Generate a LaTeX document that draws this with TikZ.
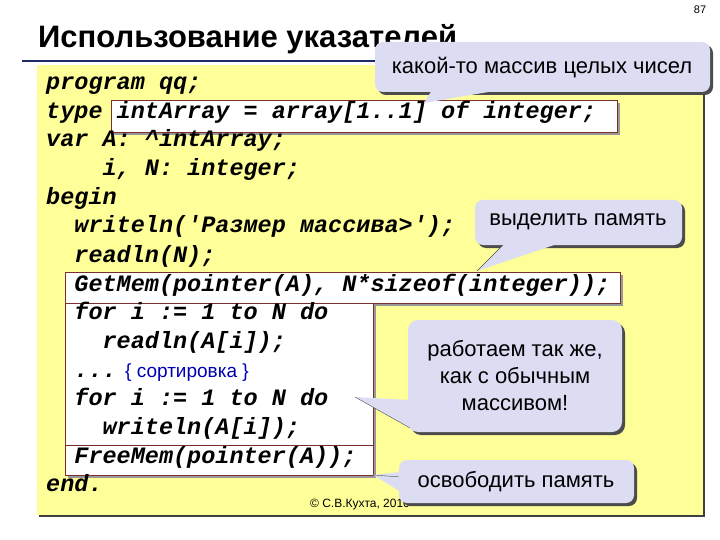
\documentclass[tikz,border=0pt]{standalone}
\usepackage{fontspec}
\setmainfont{Liberation Sans}
\newfontfamily\codef{Liberation Mono}
\begin{document}
\begin{tikzpicture}[x=1pt,y=-1pt]
\definecolor{yel}{HTML}{FFFF99}
\definecolor{callc}{HTML}{DCDDF3}
\definecolor{boxb}{HTML}{7A2E2E}
\definecolor{navy}{HTML}{1F2A6B}
\tikzset{
 code/.style={anchor=base west,inner sep=0pt,font=\codef\bfseries\itshape\fontsize{23.5}{24}\selectfont},
 callt/.style={align=center,inner sep=0pt,font=\fontsize{22}{27}\selectfont},
 wbox/.style={fill=white,draw=boxb,line width=0.8pt},
 shad/.style={fill=black!70},
 cfill/.style={fill=callc}
}
\useasboundingbox (0,0) rectangle (720,540);
\fill[white] (0,0) rectangle (720,540);
\node[font=\fontsize{11}{12}\selectfont] (pg) at (700,10) {87};
\node[anchor=base west,inner sep=0pt,font=\bfseries\fontsize{31}{34}\selectfont] (title) at (38,48) {Использование указателей};
\draw[navy,line width=2.5pt] (22,61) -- (700,61);
% yellow box
\fill[black!75] (39,67) rectangle (705,517);
\fill[yel] (37,65) rectangle (703,515);
% white boxes
\fill[black!40] (114,103) rectangle (620,135);
\draw[wbox] (111,100) rectangle (617,132);
\fill[black!40] (68,275) rectangle (623,306);
\draw[wbox] (65,272) rectangle (620,303);
\fill[black!40] (68,306) rectangle (376,478);
\draw[wbox] (65,303) rectangle (373,445);
\draw[wbox] (65,445) rectangle (373,475);
% code
\node[code] (l1) at (46,90) {program qq;};
\node[code] (l2) at (46,119) {type intArray = array[1..1] of integer;};
\node[code] (l3) at (46,147) {var A: \string^intArray;};
\node[code] (l4) at (46,176) {\ \ \ \ i, N: integer;};
\node[code] (l5) at (46,205) {begin};
\node[code] (l6) at (46,233) {\ \ writeln('Размер массива>');};
\node[code] (l7) at (46,262) {\ \ readln(N);};
\node[code] (l8) at (46,291) {\ \ GetMem(pointer(A), N*sizeof(integer));};
\node[code] (l9) at (46,319) {\ \ for i := 1 to N do};
\node[code] (l10) at (46,348) {\ \ \ \ readln(A[i]);};
\node[code] (l11) at (46,377) {\ \ ...};
\node[anchor=base west,inner sep=0pt,text=blue!70!black,font=\fontsize{19}{22}\selectfont] (sort) at (125,377) {\{ сортировка \}};
\node[code] (l12) at (46,405) {\ \ for i := 1 to N do};
\node[code] (l13) at (46,434) {\ \ \ \ writeln(A[i]);};
\node[code] (l14) at (46,463) {\ \ FreeMem(pointer(A));};
\node[code] (l15) at (46,491) {end.};
\node[font=\fontsize{12}{13}\selectfont] (copy) at (360,505) {© С.В.Кухта, 2010};
% callout 1
\coordinate (t1) at (424,103);
\fill[shad,rounded corners=8pt] (378,45) rectangle (713,95);
\fill[cfill] (t1) -- (432,90) -- (500,90) -- cycle;
\fill[cfill,rounded corners=8pt] (375,42) rectangle (710,92);
\node[callt] (c1) at (542,68) {какой-то массив целых чисел};
% callout 2
\coordinate (t2) at (477,271);
\fill[shad,rounded corners=8pt] (478,203) rectangle (685,248);
\fill[cfill] (t2) -- (505,243) -- (560,243) -- cycle;
\draw[black!70] (t2) -- (505,243);
\fill[cfill,rounded corners=8pt] (475,200) rectangle (682,245);
\node[callt] (c2) at (578,222) {выделить память};
% callout 3
\coordinate (t3) at (355,397);
\fill[shad,rounded corners=10pt] (411,323) rectangle (625,435);
\fill[cfill] (t3) -- (410,400) -- (410,428) -- cycle;
\draw[black!70] (t3) -- (410,428);
\fill[cfill,rounded corners=10pt] (408,320) rectangle (622,432);
\node[callt] (c3) at (515,376) {работаем так же,\\как с обычным\\массивом!};
% callout 4
\coordinate (t4) at (373,475);
\fill[shad,rounded corners=8pt] (402,463) rectangle (637,506);
\fill[cfill] (t4) -- (401,472) -- (401,492) -- cycle;
\draw[black!70] (t4) -- (401,477);
\fill[cfill,rounded corners=8pt] (399,460) rectangle (634,503);
\node[callt] (c4) at (516,482) {освободить память};
\end{tikzpicture}
\end{document}
